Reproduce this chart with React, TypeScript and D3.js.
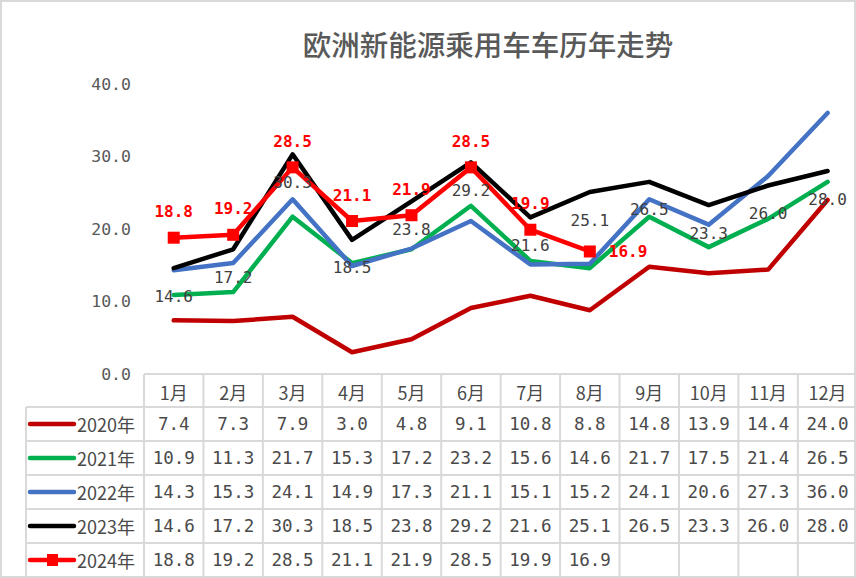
import React, { useEffect } from 'react';
import * as d3 from 'd3';

const months = ['1月', '2月', '3月', '4月', '5月', '6月', '7月', '8月', '9月', '10月', '11月', '12月'];
const seriesNames = ['2020年', '2021年', '2022年', '2023年', '2024年'];
const v2020 = [7.4, 7.3, 7.9, 3.0, 4.8, 9.1, 10.8, 8.8, 14.8, 13.9, 14.4, 24.0];
const v2021 = [10.9, 11.3, 21.7, 15.3, 17.2, 23.2, 15.6, 14.6, 21.7, 17.5, 21.4, 26.5];
const v2022 = [14.3, 15.3, 24.1, 14.9, 17.3, 21.1, 15.1, 15.2, 24.1, 20.6, 27.3, 36.0];
const v2023 = [14.6, 17.2, 30.3, 18.5, 23.8, 29.2, 21.6, 25.1, 26.5, 23.3, 26.0, 28.0];
const v2024 = [18.8, 19.2, 28.5, 21.1, 21.9, 28.5, 19.9, 16.9];
const yTicks = [0, 10, 20, 30, 40];
const title = '欧洲新能源乘用车车历年走势';

const colors = ['#C00000', '#00B050', '#4472C4', '#000000', '#FF0000'];
const allSeries = [v2020, v2021, v2022, v2023, v2024];

const W = 856;
const H = 578;
const GRID = '#D9D9D9';
const TXT = '#4A4A4A';
const MONO = '"DejaVu Sans Mono", "Liberation Mono", monospace';
const CJK = '"Noto Sans CJK SC", "Noto Sans", sans-serif';

export default function App() {
  useEffect(() => {
    document.body.style.margin = '0';
  }, []);

  const x = d3.scaleBand<string>().domain(months).range([144, 857.3]).paddingInner(0).paddingOuter(0);
  const bw = x.bandwidth();
  const cx = (i: number) => (x(months[i]) as number) + bw / 2;
  const y = d3.scaleLinear().domain([0, 40]).range([374, 84]);

  const line = d3
    .line<number>()
    .x((_, i) => cx(i))
    .y((d) => y(d));

  const tableTop = 374;
  const headerH = 33;
  const rowH = 34;
  const rowsTop = tableTop + headerH;
  const tableBottom = rowsTop + rowH * seriesNames.length;
  const legendLeft = 26;

  return (
    <svg
      width={W}
      height={H}
      style={{ position: 'absolute', left: 0, top: 0, background: '#fff' }}
      xmlns="http://www.w3.org/2000/svg"
    >
      <rect x={0} y={0} width={W} height={H} fill="#fff" />
      <rect x={1} y={1} width={W - 2} height={H - 2} fill="none" stroke={GRID} strokeWidth={2} />

      {/* title */}
      <text
        x={488}
        y={43}
        textAnchor="middle"
        dominantBaseline="central"
        fontFamily={CJK}
        fontSize={28.5}
        fontWeight={500}
        fill="#595959"
      >
        {title}
      </text>

      {/* y axis labels */}
      {yTicks.map((t) => (
        <text
          key={t}
          x={131}
          y={y(t)}
          textAnchor="end"
          dominantBaseline="central"
          fontFamily={MONO}
          fontSize={16.5}
          fill="#595959"
        >
          {t.toFixed(1)}
        </text>
      ))}

      {/* lines */}
      {allSeries.map((s, k) => (
        <path
          key={k}
          d={line(s) || ''}
          fill="none"
          stroke={colors[k]}
          strokeWidth={4.5}
          strokeLinejoin="round"
          strokeLinecap="round"
        />
      ))}
      {v2024.map((v, i) => (
        <rect key={i} x={cx(i) - 6} y={y(v) - 6} width={12} height={12} fill={colors[4]} />
      ))}

      {/* data labels 2023 (below) */}
      {v2023.map((v, i) => (
        <text
          key={'l23' + i}
          x={cx(i)}
          y={y(v) + 28}
          textAnchor="middle"
          dominantBaseline="central"
          fontFamily={MONO}
          fontSize={16}
          fill="#404040"
        >
          {v.toFixed(1)}
        </text>
      ))}
      {/* data labels 2024 (above, last at right) */}
      {v2024.map((v, i) => {
        const last = i === v2024.length - 1;
        return (
          <text
            key={'l24' + i}
            x={last ? cx(i) + 19 : cx(i)}
            y={last ? y(v) : y(v) - 26}
            textAnchor={last ? 'start' : 'middle'}
            dominantBaseline="central"
            fontFamily={MONO}
            fontSize={16}
            fontWeight="bold"
            fill={colors[4]}
          >
            {v.toFixed(1)}
          </text>
        );
      })}

      {/* data table */}
      <g stroke={GRID} strokeWidth={2} fill="none">
        <line x1={144} x2={W} y1={tableTop} y2={tableTop} />
        {seriesNames.map((_, r) => (
          <line key={'h' + r} x1={legendLeft} x2={W} y1={rowsTop + r * rowH} y2={rowsTop + r * rowH} />
        ))}
        <line x1={legendLeft} x2={W} y1={tableBottom} y2={tableBottom} />
        <line x1={legendLeft} x2={legendLeft} y1={rowsTop} y2={tableBottom} />
        {months.map((m) => (
          <line key={'v' + m} x1={x(m) as number} x2={x(m) as number} y1={tableTop} y2={tableBottom} />
        ))}
      </g>

      {months.map((m, i) => (
        <text
          key={'m' + m}
          x={cx(i)}
          y={tableTop + headerH / 2 + 1}
          textAnchor="middle"
          dominantBaseline="central"
          fontFamily={CJK}
          fontSize={18}
          fill={TXT}
        >
          {m}
        </text>
      ))}

      {seriesNames.map((name, r) => {
        const rc = rowsTop + r * rowH + rowH / 2;
        return (
          <g key={name}>
            <line x1={30} x2={74} y1={rc} y2={rc} stroke={colors[r]} strokeWidth={4.5} strokeLinecap="round" />
            {r === 4 && <rect x={47} y={rc - 6} width={11} height={12} fill={colors[r]} />}
            <text x={77} y={rc} dominantBaseline="central" fontFamily={CJK} fontSize={18} fill={TXT}>
              {name}
            </text>
            {allSeries[r].map((v, i) => (
              <text
                key={i}
                x={cx(i)}
                y={rc}
                textAnchor="middle"
                dominantBaseline="central"
                fontFamily={MONO}
                fontSize={17.5}
                fill={TXT}
              >
                {v.toFixed(1)}
              </text>
            ))}
          </g>
        );
      })}
    </svg>
  );
}
